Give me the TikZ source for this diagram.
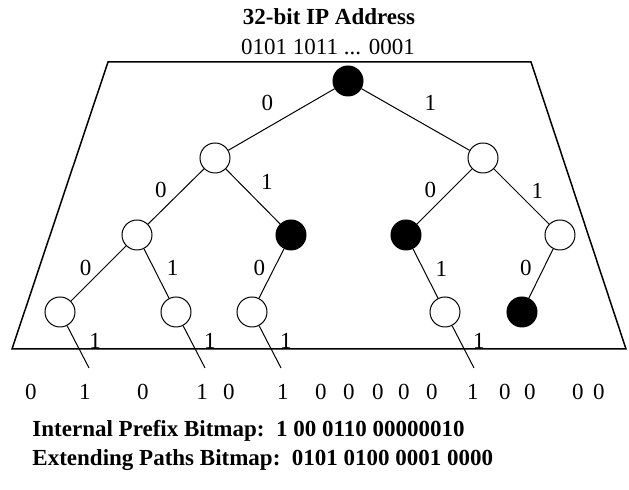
\documentclass[tikz,border=0pt]{standalone}
\usepackage{fontspec}
\setmainfont{Liberation Serif}
\usepackage{tikz}

\tikzset{
  bit/.style={circle, draw, line width=0.5pt, minimum size=15pt, inner sep=0pt},
  set/.style={bit, fill=black},
  lbl/.style={inner sep=0pt, font=\fontsize{11.5}{13}\selectfont},
  blbl/.style={inner sep=0pt, font=\fontsize{11.5}{13}\selectfont\bfseries},
}

\begin{document}
\begin{tikzpicture}[x=0.5pt, y=-0.5pt, line width=0.5pt]
        \useasboundingbox (0,0) rectangle (629,490);

        % address on top
        \node[blbl, anchor=base] (title) at (329,25) {32-bit IP Address};
        \node[lbl, anchor=base] (addr) at (328,55) {0101 1011 ... 0001};

        % the stride box
        \draw[line width=0.75pt] (108,62) -- (531,62) -- (626,349) -- (12,349) -- cycle;

        \node[set] (r) at (348,81) {};
        \node[bit] (n0) at (215,158) {};
        \node[bit] (n1) at (483,158) {};
        \node[bit] (n00) at (137,235) {};
        \node[set] (n01) at (291,235) {};
        \node[set] (n10) at (406,235) {};
        \node[bit] (n11) at (560,235) {};
        \node[bit] (n000) at (60,312) {};
        \node[bit] (n001) at (176,312) {};
        \node[bit] (n010) at (252,312) {};
        \node[bit] (n101) at (445,312) {};
        \node[set] (n110) at (522,312) {};

        \draw (r) -- (n0) node[lbl, midway, shift={(-14,-17)}] {0};
        \draw (r) -- (n1) node[lbl, midway, shift={(15,-17)}] {1};
        \draw (n0) -- (n00) node[lbl, midway, shift={(-15,-7)}] {0};
        \draw (n0) -- (n01) node[lbl, midway, shift={(14,-15)}] {1};
        \draw (n1) -- (n10) node[lbl, midway, shift={(-14,-7)}] {0};
        \draw (n1) -- (n11) node[lbl, midway, shift={(16,-6)}] {1};
        \draw (n00) -- (n000) node[lbl, midway, shift={(-13,-6)}] {0};
        \draw (n00) -- (n001) node[lbl, midway, shift={(16,-6)}] {1};
        \draw (n01) -- (n010) node[lbl, midway, shift={(-12,-6)}] {0};
        \draw (n10) -- (n101) node[lbl, midway, shift={(16,-5)}] {1};
        \draw (n11) -- (n110) node[lbl, midway, shift={(-15,-6)}] {0};

        % paths leaving the stride
        \coordinate (t000) at (89,368);
        \coordinate (t001) at (205,368);
        \coordinate (t010) at (281,368);
        \coordinate (t101) at (474,368);
        \draw (n000) -- (t000);
        \draw (n001) -- (t001);
        \draw (n010) -- (t010);
        \draw (n101) -- (t101);
        \node[lbl, anchor=base] (e000) at (95,349) {1};
        \node[lbl, anchor=base] (e001) at (210,349) {1};
        \node[lbl, anchor=base] (e010) at (286,349) {1};
        \node[lbl, anchor=base] (e101) at (479,349) {1};

        \foreach \x/\b [count=\i] in {31/0, 85/1, 143/0, 202/1, 229/0, 283/1, 321/0, 349/0,
                378/0, 404/0, 432/0, 473/1, 505/0, 530/0, 578/0, 599/0}
            \node[lbl, anchor=base] (p\i) at (\x,400) {\b};

        \node[blbl, anchor=base west] (ipb) at (32,437) {Internal Prefix Bitmap:\ \ 1 00 0110 00000010};
        \node[blbl, anchor=base west] (epb) at (32,466) {Extending Paths Bitmap:\ \ 0101 0100 0001 0000};
    \end{tikzpicture}
\end{document}
